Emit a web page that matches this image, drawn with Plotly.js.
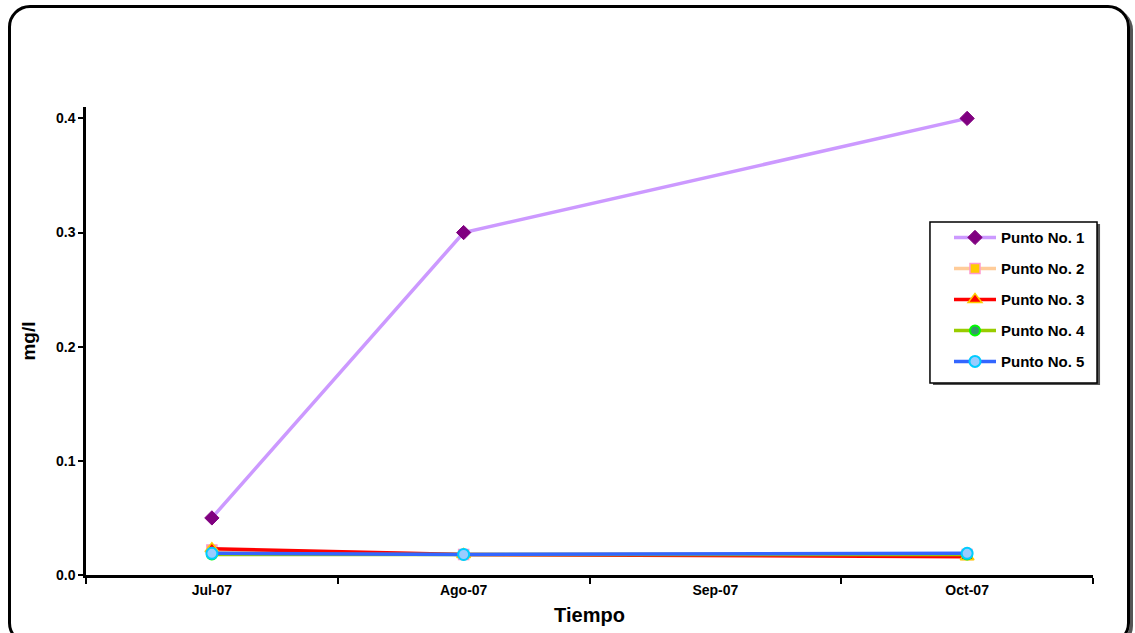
<!DOCTYPE html>
<html>
<head>
<meta charset="utf-8">
<script src="https://cdn.plot.ly/plotly-3.0.1.min.js"></script>
<style>
  html, body { margin: 0; padding: 0; background: #fff; }
  #frame { position: absolute; left: 8px; top: 5px; width: 1122px; height: 640px;
           border: 3px solid #000; border-radius: 22px; box-shadow: 3px 3px 0 #555; box-sizing: border-box; }
  #chart { position: absolute; left: 0; top: 0; width: 1135px; height: 633px; }
</style>
</head>
<body>
<div id="frame"></div>
<div id="chart"></div>
<script>
const categories = ['Jul-07', 'Ago-07', 'Sep-07', 'Oct-07'];
const punto1 = [0.05, 0.30, null, 0.40];
const punto2 = [0.022, 0.018, null, 0.018];
const punto3 = [0.023, 0.018, null, 0.016];
const punto4 = [0.018, 0.018, null, 0.018];
const punto5 = [0.019, 0.018, null, 0.019];
const seriesNames = ['Punto No. 1', 'Punto No. 2', 'Punto No. 3', 'Punto No. 4', 'Punto No. 5'];
const yTicks = [0, 0.1, 0.2, 0.3, 0.4];

const styles = [
  {line: '#CC99FF', marker: {symbol: 'diamond', color: '#800080', size: 11, line: {color: '#800080', width: 1}}},
  {line: '#FFCC99', marker: {symbol: 'square', color: '#FFCC00', size: 10, line: {color: '#FF99CC', width: 1.5}}},
  {line: '#FF0000', marker: {symbol: 'triangle-up', color: '#FF0000', size: 12, line: {color: '#FFCC00', width: 1.5}}},
  {line: '#99CC00', marker: {symbol: 'circle', color: '#339966', size: 10, line: {color: '#00FF00', width: 2}}},
  {line: '#3366FF', marker: {symbol: 'circle', color: '#99CCFF', size: 11, line: {color: '#00CCFF', width: 2}}}
];
const data = [punto1, punto2, punto3, punto4, punto5].map((ys, i) => ({
  x: categories, y: ys, name: seriesNames[i], type: 'scatter', mode: 'lines+markers',
  legendgroup: 'g' + i,
  connectgaps: true, line: {color: styles[i].line, width: 3.5}, marker: styles[i].marker
}));

const layout = {
  width: 1135, height: 633,
  paper_bgcolor: 'rgba(0,0,0,0)', plot_bgcolor: 'rgba(0,0,0,0)',
  margin: {l: 86, r: 42, t: 107, b: 58},
  font: {family: 'Liberation Sans, Arial, sans-serif', color: '#000'},
  showlegend: true,
  legend: {x: 0.857, y: 0.756, xanchor: 'left', yanchor: 'top', bgcolor: 'rgba(0,0,0,0)',
           borderwidth: 0, font: {size: 15, family: 'Liberation Sans, Arial', weight: 'bold'},
           tracegroupgap: 8.5, itemwidth: 42},
  shapes: [
    {type: 'rect', xref: 'paper', yref: 'paper', x0: 0.8411, x1: 1.0070, y0: 0.4060, y1: 0.7500,
     fillcolor: '#555', line: {width: 0}, layer: 'above'},
    {type: 'rect', xref: 'paper', yref: 'paper', x0: 0.8381, x1: 1.0040, y0: 0.4103, y1: 0.7543,
     fillcolor: '#fff', line: {color: '#000', width: 1.5}, layer: 'above'}
  ],
  xaxis: {type: 'category', categoryorder: 'array', categoryarray: categories,
          range: [-0.5, 3.5], tickson: 'boundaries', ticks: 'outside', ticklen: 6, tickwidth: 2, tickcolor: '#000',
          showline: true, linecolor: '#000', linewidth: 2.5, showgrid: false, zeroline: false,
          tickfont: {size: 14, weight: 'bold'},
          title: {text: 'Tiempo', font: {size: 20, weight: 'bold'}, standoff: 12}},
  yaxis: {range: [0, 0.41], tickvals: yTicks, tickformat: '.1f', ticks: 'outside', ticklen: 5, tickwidth: 2,
          tickcolor: '#000', showline: true, linecolor: '#000', linewidth: 2.5, showgrid: false, zeroline: false,
          tickfont: {size: 14, weight: 'bold'},
          title: {text: 'mg/l', font: {size: 19, weight: 'bold'}, standoff: 16}}
};
Plotly.newPlot('chart', data, layout, {displayModeBar: false});
</script>
</body>
</html>
